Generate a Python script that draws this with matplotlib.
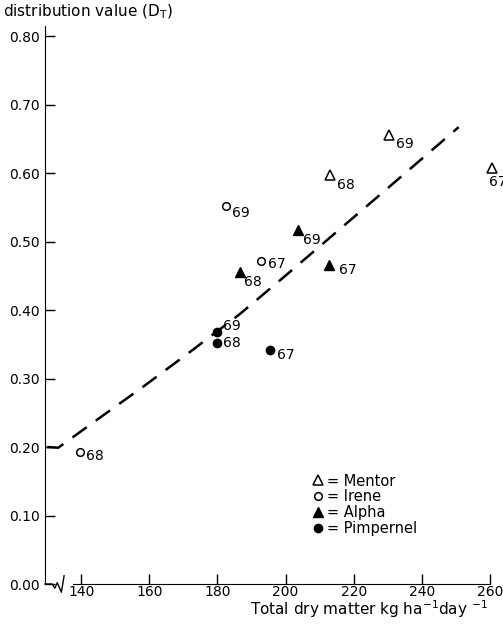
import matplotlib.pyplot as plt
import numpy as np

# data
mentor_x = [230.3, 213.0, 260.6]
mentor_y = [0.655, 0.597, 0.607]
mentor_lab = ['69', '68', '67']

irene_x = [182.6, 192.9, 139.7]
irene_y = [0.552, 0.471, 0.193]
irene_lab = ['69', '67', '68']

alpha_x = [203.5, 186.7, 212.7]
alpha_y = [0.517, 0.455, 0.466]
alpha_lab = ['69', '68', '67']

pimp_x = [180.0, 180.0, 195.3]
pimp_y = [0.368, 0.352, 0.342]
pimp_lab = ['69', '68', '67']

curve_x = [130.0, 133.3, 145.0, 158.2, 172.0, 186.3, 199.0, 211.2, 230.0, 250.8]
curve_y = [0.200, 0.199, 0.241, 0.288, 0.339, 0.393, 0.446, 0.498, 0.578, 0.667]

xticks = [140, 160, 180, 200, 220, 240, 260]
yticks = [0.0, 0.1, 0.2, 0.3, 0.4, 0.5, 0.6, 0.7, 0.8]

plt.rcParams['font.family'] = 'DejaVu Sans'
fig = plt.figure(figsize=(5.03, 6.30), dpi=100)
ax = fig.add_axes([0.0895, 0.073, 0.9105, 0.8916])
ax.set_xlim(129.4, 263.8)
ax.set_ylim(0, 0.82)

ax.plot(curve_x, curve_y, color='black', lw=1.8, dashes=(7, 4.5))

ms = 6.5
ax.plot(mentor_x, mentor_y, '^', mfc='white', mec='black', ms=ms, mew=1.1, ls='none', label='= Mentor')
ax.plot(irene_x, irene_y, 'o', mfc='white', mec='black', ms=5.5, mew=1.1, ls='none', label='= Irene')
ax.plot(alpha_x, alpha_y, '^', color='black', ms=ms, ls='none', label='= Alpha')
ax.plot(pimp_x, pimp_y, 'o', color='black', ms=6, ls='none', label='= Pimpernel')

# label offsets (points) per point
def lab(xs, ys, labs, offs):
    for x, y, t, o in zip(xs, ys, labs, offs):
        ax.annotate(t, (x, y), xytext=o, textcoords='offset points',
                    ha='left', va='center', fontsize=10, annotation_clip=False)

lab(mentor_x, mentor_y, mentor_lab, [(5, -6), (5, -7), (-2, -10)])
lab(irene_x, irene_y, irene_lab, [(4, -5), (5, -2), (4, -3)])
lab(alpha_x, alpha_y, alpha_lab, [(4, -7), (3, -7), (7, -4)])
lab(pimp_x, pimp_y, pimp_lab, [(4, 4), (4, 0), (5, -4)])

leg = ax.legend(loc='upper left', bbox_to_anchor=(0.568, 0.207), frameon=False,
                handletextpad=0.1, handlelength=1.0, labelspacing=0.05,
                fontsize=10.5, borderaxespad=0)

ax.spines['top'].set_visible(False)
ax.spines['right'].set_visible(False)
ax.spines['left'].set_bounds(0, 0.815)
ax.spines['bottom'].set_bounds(137.5, 260)
ax.set_xticks(xticks)
ax.set_yticks(yticks)
ax.set_yticklabels(['%.2f' % v for v in yticks])
ax.tick_params(direction='in', length=7, width=1, labelsize=10, pad=4)
ax.tick_params(axis='x', pad=1)

# axis break near the origin
ax.plot([129.4, 131.5, 132.3, 133.0, 134.2, 135.0],
        [0.0, 0.0, -0.006, 0.002, -0.012, 0.012],
        color='black', lw=1, clip_on=False)

fig.text(0.005, 0.982, 'distribution value (D$_\\mathregular{T}$)', fontsize=11, va='center')
fig.text(0.97, 0.033, 'Total dry matter kg ha$^{-1}$day $^{-1}$', fontsize=11, ha='right', va='center')

plt.savefig('out.png', dpi=100)
